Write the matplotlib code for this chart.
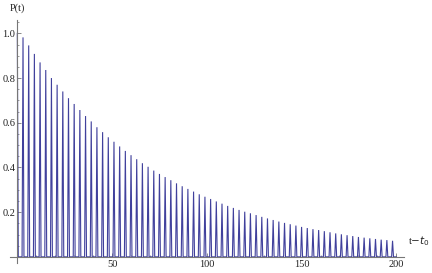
import numpy as np
import matplotlib
matplotlib.use("Agg")
import matplotlib.pyplot as plt
from matplotlib.ticker import MultipleLocator, FixedLocator

# peak times (one pulse every 3 time units) and peak heights
peak_t = np.arange(0, 199, 3)
peak_p = [1.0, 0.982, 0.946, 0.908, 0.870, 0.836, 0.800, 0.770, 0.740, 0.710,
          0.684, 0.657, 0.630, 0.606, 0.580, 0.558, 0.535, 0.515, 0.494, 0.474,
          0.455, 0.437, 0.419, 0.403, 0.386, 0.371, 0.357, 0.343, 0.329, 0.316,
          0.304, 0.292, 0.280, 0.269, 0.259, 0.248, 0.238, 0.228, 0.219, 0.210,
          0.202, 0.195, 0.187, 0.179, 0.172, 0.165, 0.158, 0.152, 0.146, 0.140,
          0.134, 0.129, 0.124, 0.120, 0.115, 0.110, 0.105, 0.101, 0.097, 0.093,
          0.089, 0.086, 0.083, 0.080, 0.077, 0.075, 0.072]
t_end = 200
half_width = 0.5

x_ticks = [50, 100, 150, 200]
y_ticks = [0.2, 0.4, 0.6, 0.8, 1.0]

# build the pulse train: flat at zero between narrow peaks
xs, ys = [], []
for t, p in zip(peak_t, peak_p):
    if t > 0:
        xs.append(t - half_width); ys.append(0.0)
    xs.append(t); ys.append(p)
    xs.append(t + half_width); ys.append(0.0)
xs.append(t_end); ys.append(0.0)

plt.rcParams['font.family'] = ['Liberation Serif', 'DejaVu Serif']

fig = plt.figure(figsize=(4.32, 2.73), dpi=100)
ax = fig.add_axes([0.023, 0.037, 0.912, 0.89])
ax.plot(xs, ys, color='#40409c', lw=0.8, solid_joinstyle='miter')

ax.set_xlim(-3.9, 204)
ax.set_ylim(-0.027, 1.06)

for s in ['top', 'right']:
    ax.spines[s].set_visible(False)
ax.spines['left'].set_position(('data', 0))
ax.spines['bottom'].set_position(('data', 0))
for s in ['left', 'bottom']:
    ax.spines[s].set_color('#777777')
    ax.spines[s].set_linewidth(0.8)

ax.xaxis.set_major_locator(FixedLocator(x_ticks))
ax.xaxis.set_minor_locator(MultipleLocator(10))
ax.yaxis.set_major_locator(FixedLocator(y_ticks))
ax.yaxis.set_minor_locator(MultipleLocator(0.05))
ax.set_xticklabels([str(v) for v in x_ticks])
ax.set_yticklabels([f"{v:.1f}" for v in y_ticks])
ax.tick_params(which='major', direction='in', length=3, width=0.6, color='#777777',
               labelsize=7.5, pad=2, labelcolor='#222222')
ax.tick_params(which='minor', direction='in', length=1.7, width=0.5, color='#777777')
ax.tick_params(axis='y', which='both', pad=1.5)

fig.text(10 / 432, 1 - 8 / 273, "P(t)", fontsize=7.5, ha='left', va='center',
         color='#222222')
fig.text(408 / 432, 1 - 241 / 273, r"t$-$$\mathit{t}_0$", fontsize=7.5, ha='left',
         va='center', color='#222222')

fig.savefig("out.png", dpi=100)
